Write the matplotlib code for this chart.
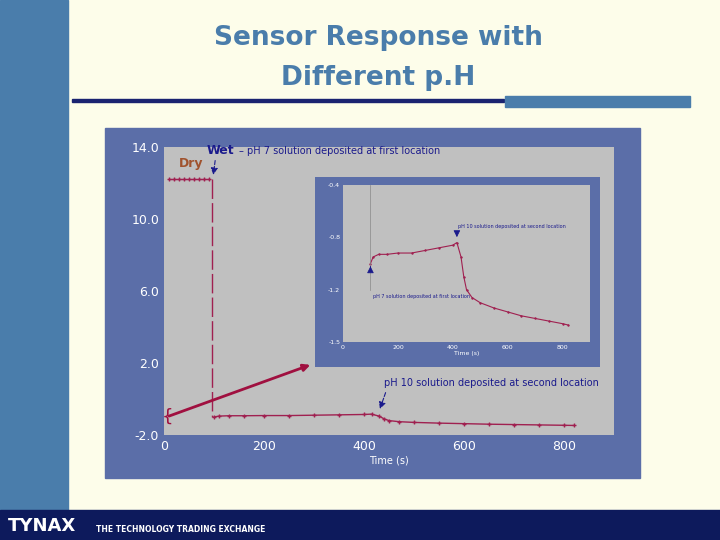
import matplotlib
matplotlib.use("Agg")
import matplotlib.pyplot as plt
from matplotlib.patches import Rectangle

# data (main chart)
dry_t = [10, 20, 30, 40, 50, 60, 70, 80, 90]
dry_v = [12.2, 12.2, 12.2, 12.2, 12.2, 12.2, 12.2, 12.2, 12.2]
wet_t = [100, 110, 130, 160, 200, 250, 300, 350, 400, 415, 430, 440, 450, 470, 500, 550, 600, 650, 700, 750, 800, 820]
wet_v = [-1.0, -0.95, -0.93, -0.93, -0.92, -0.92, -0.9, -0.88, -0.86, -0.84, -0.95, -1.1, -1.2, -1.26, -1.3, -1.34, -1.37, -1.4, -1.42, -1.44, -1.46, -1.47]
main_yticks = [-2.0, 2.0, 6.0, 10.0, 14.0]
main_ylabels = ["-2.0", "2.0", "6.0", "10.0", "14.0"]
xticks = [0, 200, 400, 600, 800]
inset_yticks = [-1.6, -1.2, -0.8, -0.4]
inset_ylabels = ["-1.5", "-1.2", "-0.8", "-0.4"]

W, H = 720, 540
fig = plt.figure(figsize=(7.2, 5.4), dpi=100)
fig.patch.set_facecolor("#fdfdea")

def box(x0, y0, x1, y1):
    return [x0 / W, 1 - y1 / H, (x1 - x0) / W, (y1 - y0) / H]

bg = fig.add_axes([0, 0, 1, 1]); bg.set_xlim(0, W); bg.set_ylim(H, 0); bg.axis("off")
bg.add_patch(Rectangle((0, 0), 68, 510, color="#4a7dab"))
bg.add_patch(Rectangle((0, 510), 720, 30, color="#0d1a5c"))
bg.add_patch(Rectangle((72, 99), 432, 3, color="#1a2370"))
bg.add_patch(Rectangle((505, 96), 185, 11, color="#4a7dab"))
bg.add_patch(Rectangle((105, 128), 535, 350, color="#5b6ea8"))
bg.text(378, 38, "Sensor Response with", ha="center", va="center", fontsize=19, fontweight="bold", color="#4a7dab")
bg.text(378, 78, "Different p.H", ha="center", va="center", fontsize=19, fontweight="bold", color="#4a7dab")
bg.text(8, 526, "TYNAX", ha="left", va="center", fontsize=13, fontweight="bold", color="white")
bg.text(96, 530, "THE TECHNOLOGY TRADING EXCHANGE", ha="left", va="center", fontsize=5.5, fontweight="bold", color="white")

line_c = "#a02050"
ax = fig.add_axes(box(164, 147, 614, 435))
ax.set_facecolor("#c0c0c0")
ax.plot(dry_t, dry_v, color=line_c, lw=1, marker="+", ms=3)
ax.plot([95, 95], [12.2, -1.0], color=line_c, lw=1, dashes=(14, 3))
ax.plot(wet_t, wet_v, color=line_c, lw=1, marker="+", ms=3)
ax.set_xlim(0, 900); ax.set_ylim(-2, 14)
ax.set_xticks(xticks); ax.set_yticks(main_yticks); ax.set_yticklabels(main_ylabels)
for s in ax.spines.values(): s.set_visible(False)
ax.tick_params(length=0, colors="white", labelsize=9)
ax.set_xlabel("Time (s)", color="white", fontsize=7, labelpad=2)
ax.text(30, 12.9, "Dry", color="#a0522d", fontsize=9, fontweight="bold")
ax.text(85, 13.6, "Wet", color="#1a1a8c", fontsize=9, fontweight="bold")
ax.text(150, 13.6, "– pH 7 solution deposited at first location", color="#1a1a8c", fontsize=7)
ax.annotate("", xy=(98, 12.3), xytext=(103, 13.4), arrowprops=dict(arrowstyle="-|>", color="#1a1a8c", ls="--", lw=0.8))
ax.text(440, 0.7, "pH 10 solution deposited at second location", color="#1a1a8c", fontsize=7)
ax.annotate("", xy=(430, -0.7), xytext=(445, 0.5), arrowprops=dict(arrowstyle="-|>", color="#1a1a8c", ls="--", lw=0.8))
ax.annotate("", xy=(298, 1.95), xytext=(5, -1.0), arrowprops=dict(arrowstyle="-|>", color="#a01040", lw=2), annotation_clip=False)
ax.text(-5, -1.0, "{", color="#a01040", fontsize=13, ha="left", va="center")

fr = fig.add_axes(box(315, 177, 600, 367))
fr.set_xticks([]); fr.set_yticks([])
fr.set_facecolor("#5b6ea8")
for s in fr.spines.values(): s.set_visible(False)

ia = fig.add_axes(box(343, 185, 590, 342))
ia.set_facecolor("#c0c0c0")
ia.plot(wet_t, wet_v, color=line_c, lw=0.8, marker="+", ms=2)
ia.plot([100, 100], [-0.4, -1.2], color="#888888", lw=0.5)
ia.set_xlim(0, 900); ia.set_ylim(-1.6, -0.4)
ia.set_xticks(xticks); ia.set_yticks(inset_yticks); ia.set_yticklabels(inset_ylabels)
for s in ia.spines.values(): s.set_visible(False)
ia.tick_params(length=0, colors="white", labelsize=4.5, pad=2)
ia.set_xlabel("Time (s)", color="white", fontsize=4.5, labelpad=1)
ia.text(420, -0.73, "pH 10 solution deposited at second location", color="#1a1a8c", fontsize=3.5)
ia.annotate("", xy=(415, -0.82), xytext=(415, -0.75), arrowprops=dict(arrowstyle="-|>", color="#1a1a8c", lw=0.6))
ia.text(110, -1.26, "pH 7 solution deposited at first location", color="#1a1a8c", fontsize=3.5)
ia.annotate("", xy=(100, -1.0), xytext=(100, -1.05), arrowprops=dict(arrowstyle="-|>", color="#1a1a8c", lw=0.6))

fig.savefig("out.png", dpi=100, facecolor=fig.get_facecolor())
